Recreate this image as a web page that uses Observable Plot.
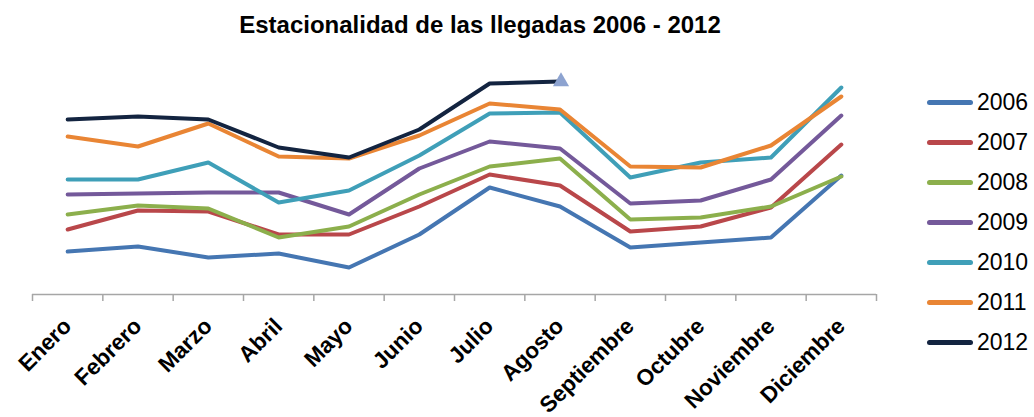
<!DOCTYPE html>
<html>
<head>
<meta charset="utf-8">
<script src="https://cdn.jsdelivr.net/npm/d3@7"></script>
<script src="https://cdn.jsdelivr.net/npm/@observablehq/plot@0.6"></script>
<style>
  body { margin: 0; background: #fff; font-family: "Liberation Sans", Arial, sans-serif; }
  #wrap { position: relative; width: 1034px; height: 417px; overflow: hidden; }
  #title { position: absolute; left: 0; top: 13px; width: 960px; text-align: center;
           font-size: 24px; line-height: 24px; font-weight: bold; color: #000; }
  #chart { position: absolute; left: 0; top: 45px; }
  #legend { position: absolute; left: 927px; top: 82px; }
  .row { display: flex; align-items: center; height: 40px; }
  .sw { display: inline-block; width: 46px; height: 5px; border-radius: 3px; margin-right: 4px; }
  .lab { font-size: 23px; color: #000; }
  g[aria-label="x-axis tick label"] text { font-weight: bold; }
</style>
</head>
<body>
<div id="wrap">
  <div id="title">Estacionalidad de las llegadas 2006 - 2012</div>
  <div id="chart"></div>
  <div id="legend"></div>
</div>
<script>
const months = ["Enero","Febrero","Marzo","Abril","Mayo","Junio","Julio","Agosto","Septiembre","Octubre","Noviembre","Diciembre"];
const years = ["2006","2007","2008","2009","2010","2011","2012"];
const colors = ["#4576b2","#b9474a","#8caf4c","#74599a","#3f9fb8","#e98534","#132440"];

const s2006 = [43, 48, 37, 41, 27, 60, 107, 88, 47, 52, 57, 119];
const s2007 = [65, 84, 83, 60, 60, 88, 120, 109, 63, 68, 87, 150];
const s2008 = [80, 89, 86, 57, 68, 100, 128, 136, 75, 77, 88, 118];
const s2009 = [100, 101, 102, 102, 80, 126, 153, 146, 91, 94, 115, 179];
const s2010 = [115, 115, 132, 92, 104, 139, 181, 182, 117, 132, 137, 207];
const s2011 = [158, 148, 171, 138, 136, 159, 191, 185, 128, 127, 149, 198];
const s2012 = [175, 178, 175, 147, 137, 165, 211, 213];

const series = [s2006, s2007, s2008, s2009, s2010, s2011, s2012];
const rows = [];
series.forEach((vals, k) => vals.forEach((v, i) => rows.push({year: years[k], i, month: months[i], v})));
const last = rows.filter(d => d.year === "2012").slice(-1);

const idx = d3.range(months.length);
const bounds = d3.range(months.length + 1).map(i => i - 0.5);

const chart = Plot.plot({
  width: 900,
  height: 372,
  marginTop: 9,
  marginBottom: 123,
  marginLeft: 32,
  marginRight: 24,
  style: {fontFamily: "'Liberation Sans', Arial, sans-serif", background: "transparent", color: "#000"},
  x: {type: "linear", domain: [-0.5, 11.5], axis: null},
  y: {domain: [0, 240], axis: null},
  color: {domain: years, range: colors},
  marks: [
    Plot.ruleY([0], {stroke: "#a6a6a6", strokeWidth: 1.5}),
    Plot.axisX(bounds, {tickSize: 7, tickFormat: () => "", label: null, stroke: "#a6a6a6", strokeWidth: 1.5}),
    Plot.axisX(idx, {tickSize: 0, tickPadding: 28, tickRotate: -45, tickFormat: i => months[i], label: null,
                     fontSize: 22.5, fontWeight: "bold", fill: "#000"}),
    Plot.line(rows, {x: "i", y: "v", z: "year", stroke: "year", strokeWidth: 4,
                     strokeLinejoin: "round", strokeLinecap: "round"}),
    Plot.dot(last, {x: "i", y: "v", symbol: "triangle", fill: "#8da3d0", r: 6, dx: 1})
  ]
});
document.getElementById("chart").appendChild(chart);

const legend = d3.select("#legend");
years.forEach((y, k) => {
  const r = legend.append("div").attr("class", "row");
  r.append("span").attr("class", "sw").style("background", colors[k]);
  r.append("span").attr("class", "lab").text(y);
});
</script>
</body>
</html>
